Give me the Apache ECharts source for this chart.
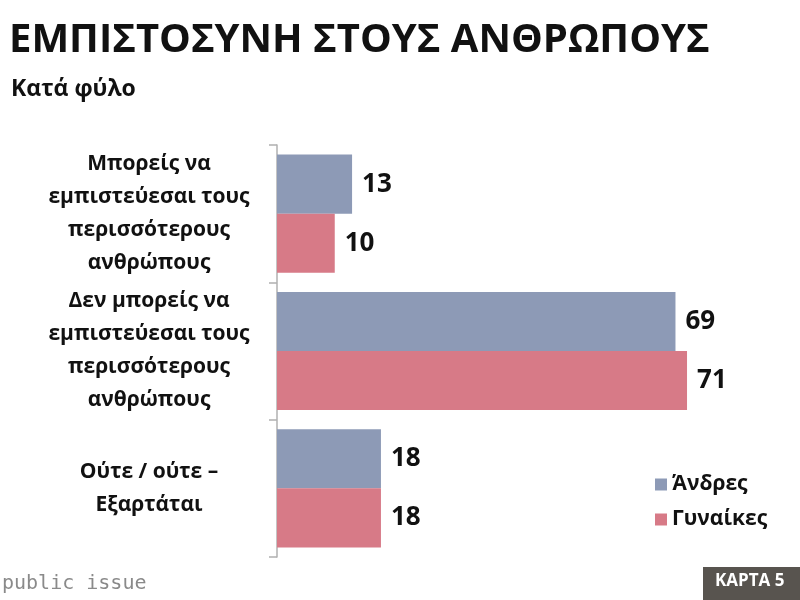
<!DOCTYPE html>
<html>
<head>
<meta charset="utf-8">
<script src="https://cdn.jsdelivr.net/npm/echarts@6/dist/echarts.min.js"></script>
<style>
  html, body { margin: 0; padding: 0; background: #fff; }
  #chart { width: 800px; height: 600px; }
</style>
</head>
<body>
<div id="chart"></div>
<script>
const categories = [
  'Μπορείς να\nεμπιστεύεσαι τους\nπερισσότερους\nανθρώπους',
  'Δεν μπορείς να\nεμπιστεύεσαι τους\nπερισσότερους\nανθρώπους',
  'Ούτε / ούτε –\nΕξαρτάται'
];
const seriesNames = ['Άνδρες', 'Γυναίκες'];
const men = [13, 69, 18];
const women = [10, 71, 18];

const chart = echarts.init(document.getElementById('chart'));
const font = '"Open Sans", "Noto Sans", sans-serif';

const option = {
  animation: false,
  textStyle: { fontFamily: font },
  title: [
    {
      text: 'ΕΜΠΙΣΤΟΣΥΝΗ ΣΤΟΥΣ ΑΝΘΡΩΠΟΥΣ',
      left: 4, top: 16,
      textStyle: { fontSize: 40, fontWeight: 'bold', color: '#111', fontFamily: font }
    },
    {
      text: 'Κατά φύλο',
      left: 6, top: 73,
      textStyle: { fontSize: 23, fontWeight: 'bold', color: '#111', fontFamily: font }
    }
  ],
  legend: {
    orient: 'vertical',
    left: 650, top: 469,
    itemWidth: 12, itemHeight: 12,
    itemGap: 14,
    icon: 'rect',
    data: seriesNames,
    textStyle: { fontSize: 21, fontWeight: 'bold', color: '#111', fontFamily: font }
  },
  grid: { left: 277, top: 145, width: 462, height: 412 },
  xAxis: {
    type: 'value', min: 0, max: 80,
    show: false
  },
  yAxis: {
    type: 'category',
    inverse: true,
    data: categories,
    axisLine: { show: true, lineStyle: { color: '#b0b0b0', width: 1.5 } },
    axisTick: { show: true, length: 8, lineStyle: { color: '#b0b0b0', width: 1.5 } },
    axisLabel: {
      align: 'center',
      margin: 128,
      fontSize: 21,
      fontWeight: 'bold',
      lineHeight: 33,
      color: '#111',
      fontFamily: font
    }
  },
  series: [
    {
      name: seriesNames[0], type: 'bar', data: men,
      itemStyle: { color: '#8d9ab6' },
      barGap: '0%', barCategoryGap: '14%',
      label: { show: true, position: 'right', distance: 10, fontSize: 26, fontWeight: 'bold', color: '#111', fontFamily: font }
    },
    {
      name: seriesNames[1], type: 'bar', data: women,
      itemStyle: { color: '#d77a87' },
      barGap: '0%', barCategoryGap: '14%',
      label: { show: true, position: 'right', distance: 10, fontSize: 26, fontWeight: 'bold', color: '#111', fontFamily: font }
    }
  ],
  graphic: [
    {
      type: 'text', left: 2, top: 574,
      style: { text: 'public issue', fontSize: 20, fill: '#8a8a8a', fontFamily: '"DejaVu Sans Mono", monospace' }
    },
    {
      type: 'rect', left: 703, top: 567,
      shape: { width: 97, height: 33 },
      style: { fill: '#58544f' }
    },
    {
      type: 'text', left: 715, top: 573,
      style: { text: 'ΚΑΡΤΑ 5', fontSize: 17, fontWeight: 'bold', fill: '#fff', fontFamily: font }
    }
  ]
};

chart.setOption(option);
</script>
</body>
</html>
